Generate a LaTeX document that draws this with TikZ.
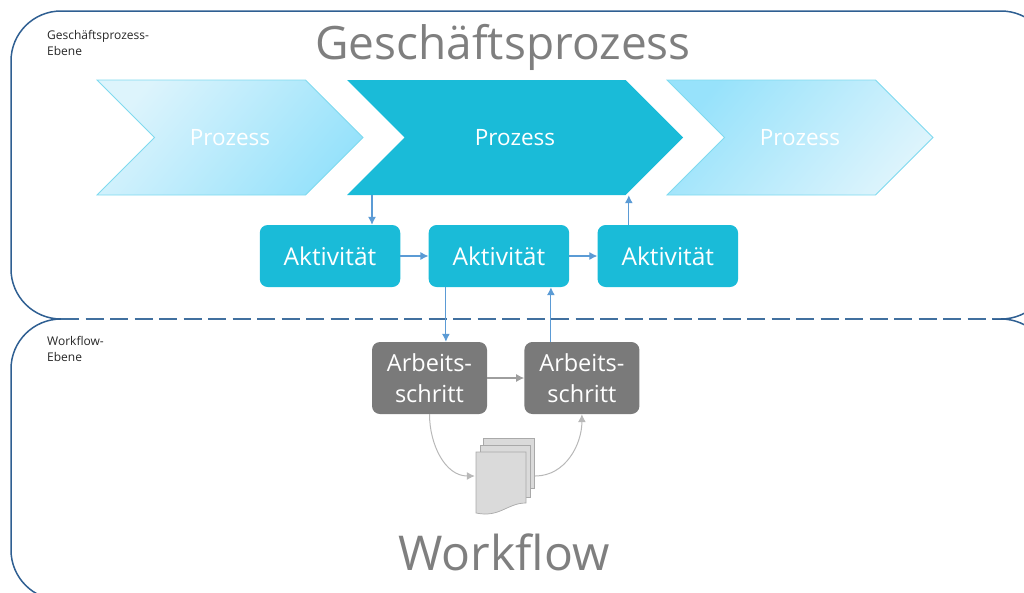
\documentclass[tikz,border=0pt]{standalone}
\usepackage{fontspec}
\setmainfont{Open Sans}
\usetikzlibrary{positioning, shapes.symbols, arrows.meta}

\definecolor{framecol}{HTML}{2F5F92}
\definecolor{dashcol}{HTML}{41709F}
\definecolor{tealcol}{HTML}{1ABBD8}
\definecolor{edgecol}{HTML}{7FDAEF}
\definecolor{palecol}{HTML}{DDF4FC}
\definecolor{skycol}{HTML}{97E2FB}
\definecolor{arrowcol}{HTML}{5B9BD5}
\definecolor{stepcol}{HTML}{7A7A7A}
\definecolor{titlecol}{HTML}{7F7F7F}
\definecolor{sheetcol}{HTML}{DADADA}
\definecolor{sheetline}{HTML}{A9A9A9}

\begin{document}
\begin{tikzpicture}[
x=1pt, y=-1pt,
framenode/.style={rectangle,
  draw=framecol,
  line width=1.5pt,
  rounded corners=50pt,
  minimum width=1040pt,
  inner sep=0pt,
},
procnode/.style={signal,
  signal to=east,
  signal from=west,
  signal pointer angle=90,
  minimum height=115pt,
  inner sep=0pt,
  text=white,
  font=\fontsize{22.5}{26}\selectfont,
},
paleproc/.style={procnode,
  draw=edgecol,
  line width=0.8pt,
  minimum width=266pt,
},
actnode/.style={rectangle,
  fill=tealcol,
  rounded corners=8pt,
  minimum width=140.5pt,
  minimum height=62pt,
  text=white,
  font=\fontsize{24.5}{28}\selectfont,
},
worknode/.style={rectangle,
  fill=stepcol,
  rounded corners=8pt,
  minimum width=115pt,
  minimum height=72pt,
  inner sep=0pt,
  align=center,
  text=white,
  font=\fontsize{23.5}{31.5}\selectfont,
},
levelnode/.style={anchor=north west,
  inner sep=0pt,
  align=left,
  text=black!85,
  font=\fontsize{12}{16.5}\selectfont,
},
titlenode/.style={text=titlecol,
  inner sep=0pt,
},
sheet/.style={draw=sheetline, fill=sheetcol, line width=0.7pt},
blueline/.style={->, arrowcol, line width=1.1pt},
greyline/.style={->, line width=1.3pt, draw=black!38, fill=black!38},
softline/.style={->, line width=1pt, draw=black!28},
>={Latex[length=8pt,width=8pt]}
]
\useasboundingbox (0,0) rectangle (1024,592);
\clip (0,0) rectangle (1024,592);

\node[framenode, minimum height=308pt] (upper) at (531,165)
    {};
\node[framenode, minimum height=281pt] (lower) at (531,459.5)
    {};
\draw[white, line width=4pt] (61,319) -- (993,319);
\draw[dashcol, line width=1.5pt, dash pattern=on 18pt off 6.5pt] (61,319) -- (993,319);

\node[levelnode] (uplabel) at (47,30)
    {Geschäftsprozess-\\Ebene};
\node[levelnode] (lowlabel) at (47,336)
    {Workflow-\\Ebene};
\node[titlenode, font=\fontsize{46}{50}\selectfont] (uptitle) at (503,47)
    {Geschäftsprozess};
\node[titlenode, font=\fontsize{48}{52}\selectfont] (lowtitle) at (504,552)
    {Workflow};

\node[paleproc, left color=palecol, right color=skycol, shading angle=50] (proca) at (230,137.5)
    {Prozess};
\node[procnode, fill=tealcol, minimum width=336pt] (procb) at (515,137.5)
    {Prozess};
\node[paleproc, left color=skycol, right color=palecol, shading angle=50] (procc) at (800,137.5)
    {Prozess};

\node[actnode] (acta) at (330,256)
    {Aktivität};
\node[actnode, right= 28pt of acta] (actb)
    {Aktivität};
\node[actnode, right= 28pt of actb] (actc)
    {Aktivität};

\node[worknode] (worka) at (429.5,378)
    {Arbeits-\\schritt};
\node[worknode, right= 37pt of worka] (workb)
    {Arbeits-\\schritt};

\node[minimum width=60pt, minimum height=75pt, inner sep=0pt] (docs) at (505,476)
    {};
\draw[sheet] (483,438) -- (534,438) -- (534,488) -- (483,488) -- cycle;
\draw[sheet] (480,445) -- (530,445) -- (530,497) -- (480,497) -- cycle;
\draw[sheet] (476,452) -- (526,452) -- (526,503) .. controls (507,503) and (500,518) .. (476,513) -- cycle;

\draw[blueline] ([xshift=42pt]acta.north |- procb.south) -- ([xshift=42pt]acta.north);
\draw[blueline] (acta) -- (actb);
\draw[blueline] (actb) -- (actc);
\draw[blueline] ([xshift=-39pt]actc.north) -- ([xshift=-39pt]actc.north |- procb.south);
\draw[blueline] ([xshift=-53pt]actb.south) -- ([xshift=-53pt]actb.south |- worka.north);
\draw[blueline] ([xshift=52pt]actb.south |- workb.north) -- ([xshift=52pt]actb.south);

\draw[greyline] (worka) -- (workb);
\draw[softline] (worka.south) to[out=-90,in=180] (docs.west);
\draw[softline] (docs.east) to[out=0,in=-90] (workb.south);
\end{tikzpicture}
\end{document}
